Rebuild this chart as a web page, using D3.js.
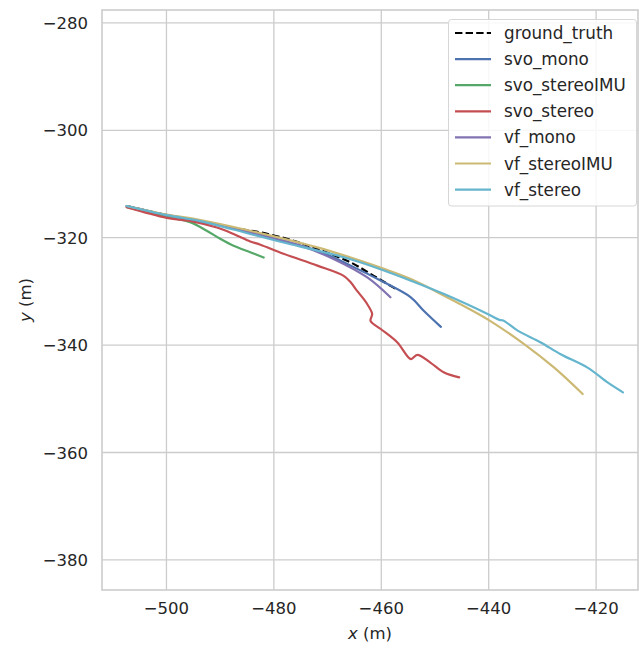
<!DOCTYPE html>
<html>
<head>
<meta charset="utf-8">
<script src="https://cdn.jsdelivr.net/npm/d3@7"></script>
<style>
  body { margin: 0; background: #fff; }
  text { font-family: "DejaVu Sans", sans-serif; fill: #262626; }
</style>
</head>
<body>
<div class="chart"></div>
<script>
// trajectories, [x, y] in metres
var ground_truth = [[-507.4, -314.1], [-499.9, -315.8], [-493.7, -316.9], [-487.5, -318.2],
  [-482.5, -319.0], [-476.9, -320.4], [-471.9, -322.1], [-465.7, -324.6], [-461.4, -327.1],
  [-457.7, -329.3], [-457.0, -329.7]];
var svo_mono = [[-507.4, -314.1], [-499.9, -315.8], [-493.7, -316.9], [-484.4, -318.9],
  [-478.2, -320.6], [-471.9, -322.4], [-465.7, -325.2], [-459.5, -328.3], [-454.5, -331.1],
  [-452.1, -333.6], [-448.9, -336.6]];
var svo_stereoIMU = [[-507.4, -314.3], [-499.9, -316.1], [-495.6, -317.1], [-492.5, -318.7],
  [-490.0, -320.2], [-487.5, -321.5], [-484.4, -322.7], [-481.9, -323.7]];
var svo_stereo = [[-507.4, -314.3], [-499.9, -316.3], [-495.0, -317.0], [-490.6, -318.1],
  [-487.5, -319.3], [-484.4, -320.7], [-482.5, -321.3], [-478.2, -323.0], [-471.9, -325.2],
  [-467.0, -327.1], [-465.7, -328.3], [-464.5, -329.9], [-463.3, -331.4], [-462.6, -332.4],
  [-461.7, -334.2], [-462.0, -335.5], [-460.1, -337.0], [-457.0, -339.5], [-454.5, -342.6],
  [-453.3, -341.8], [-450.8, -343.3], [-448.3, -345.1], [-445.5, -346.0]];
var vf_mono = [[-507.4, -314.1], [-499.9, -315.8], [-493.7, -316.9], [-484.4, -319.0],
  [-475.0, -321.5], [-468.8, -324.0], [-462.6, -327.4], [-458.3, -331.1]];
var vf_stereoIMU = [[-507.4, -314.1], [-499.9, -315.7], [-493.7, -316.7], [-484.4, -318.7],
  [-471.9, -321.8], [-465.7, -323.7], [-459.5, -325.8], [-454.5, -327.7], [-448.3, -330.8],
  [-440.2, -335.2], [-433.4, -339.8], [-427.8, -344.2], [-422.5, -349.1]];
var vf_stereo = [[-507.4, -314.1], [-499.9, -315.8], [-493.7, -316.9], [-484.4, -319.3],
  [-478.2, -320.9], [-471.9, -322.4], [-465.7, -324.0], [-459.5, -326.1], [-454.5, -328.0],
  [-448.3, -330.5], [-440.2, -334.2], [-438.0, -335.3], [-437.3, -335.4], [-434.6, -337.3],
  [-430.3, -339.5], [-426.6, -341.7], [-421.6, -344.2], [-417.8, -347.0], [-415.0, -348.8]];

var seriesNames = ['ground_truth', 'svo_mono', 'svo_stereoIMU', 'svo_stereo', 'vf_mono', 'vf_stereoIMU', 'vf_stereo'];
var seriesData = [ground_truth, svo_mono, svo_stereoIMU, svo_stereo, vf_mono, vf_stereoIMU, vf_stereo];
var seriesColors = ['#000000', '#4C72B0', '#55A868', '#C44E52', '#8172B2', '#CCB974', '#64B5CD'];

var xTicks = [-500, -480, -460, -440, -420];
var yTicks = [-280, -300, -320, -340, -360, -380];

var width = 639, height = 649;
var plot = {left: 102, right: 638, top: 10, bottom: 590};

var x = d3.scaleLinear().domain([-512, -412.2]).range([plot.left, plot.right]);
var y = d3.scaleLinear().domain([-385.6, -277.6]).range([plot.bottom, plot.top]);

var svg = d3.select('.chart').append('svg')
  .attr('width', width)
  .attr('height', height);

// grid
svg.append('g').selectAll('line')
  .data(xTicks)
  .enter().append('line')
    .attr('x1', d => x(d)).attr('x2', d => x(d))
    .attr('y1', plot.top).attr('y2', plot.bottom)
    .attr('stroke', '#cccccc').attr('stroke-width', 1.3);

svg.append('g').selectAll('line')
  .data(yTicks)
  .enter().append('line')
    .attr('x1', plot.left).attr('x2', plot.right)
    .attr('y1', d => y(d)).attr('y2', d => y(d))
    .attr('stroke', '#cccccc').attr('stroke-width', 1.3);

// frame
svg.append('rect')
  .attr('x', plot.left).attr('y', plot.top)
  .attr('width', plot.right - plot.left).attr('height', plot.bottom - plot.top)
  .attr('fill', 'none').attr('stroke', '#cccccc').attr('stroke-width', 1.6);

// tick labels
var fmt = d3.format('d');
svg.append('g').selectAll('text')
  .data(xTicks)
  .enter().append('text')
    .attr('x', d => x(d)).attr('y', 614)
    .attr('text-anchor', 'middle')
    .attr('font-size', 16.5)
    .text(d => fmt(d));

svg.append('g').selectAll('text')
  .data(yTicks)
  .enter().append('text')
    .attr('x', 88).attr('y', d => y(d) + 6)
    .attr('text-anchor', 'end')
    .attr('font-size', 16.5)
    .text(d => fmt(d));

// axis labels
var xl = svg.append('text')
  .attr('x', (plot.left + plot.right) / 2).attr('y', 639)
  .attr('text-anchor', 'middle')
  .attr('font-size', 16.5);
xl.append('tspan').attr('font-style', 'italic').text('x');
xl.append('tspan').text(' (m)');

var yl = svg.append('text')
  .attr('transform', `translate(31, ${(plot.top + plot.bottom) / 2}) rotate(-90)`)
  .attr('text-anchor', 'middle')
  .attr('font-size', 16.5);
yl.append('tspan').attr('font-style', 'italic').text('y');
yl.append('tspan').text(' (m)');

// lines
var line = d3.line()
  .curve(d3.curveCatmullRom.alpha(0.5))
  .x(d => x(d[0]))
  .y(d => y(d[1]));

svg.append('clipPath').attr('id', 'clip')
  .append('rect')
    .attr('x', plot.left).attr('y', plot.top)
    .attr('width', plot.right - plot.left).attr('height', plot.bottom - plot.top);

svg.append('g').attr('clip-path', 'url(#clip)')
  .selectAll('path')
  .data(seriesData)
  .enter().append('path')
    .attr('d', d => line(d))
    .attr('fill', 'none')
    .attr('stroke', (d, i) => seriesColors[i])
    .attr('stroke-width', 2.2)
    .attr('stroke-linejoin', 'round')
    .attr('stroke-linecap', (d, i) => i === 0 ? 'butt' : 'round')
    .attr('stroke-dasharray', (d, i) => i === 0 ? '7.4,3.2' : null);

// legend
var legend = svg.append('g');
legend.append('rect')
  .attr('x', 448.5).attr('y', 19.5)
  .attr('width', 188).attr('height', 186.5)
  .attr('rx', 3)
  .attr('fill', '#ffffff').attr('fill-opacity', 0.85)
  .attr('stroke', '#d6d6d6').attr('stroke-width', 1);

var item = legend.selectAll('.item')
  .data(seriesNames)
  .enter().append('g')
    .attr('class', 'item')
    .attr('transform', (d, i) => `translate(0, ${33 + i * 26.1})`);

item.append('line')
  .attr('x1', 455).attr('x2', 491)
  .attr('y1', 0).attr('y2', 0)
  .attr('stroke', (d, i) => seriesColors[i])
  .attr('stroke-width', 2.2)
  .attr('stroke-dasharray', (d, i) => i === 0 ? '7.4,3.2' : null);

item.append('text')
  .attr('x', 504).attr('y', 6)
  .attr('font-size', 16.8)
  .text(d => d);
</script>
</body>
</html>
